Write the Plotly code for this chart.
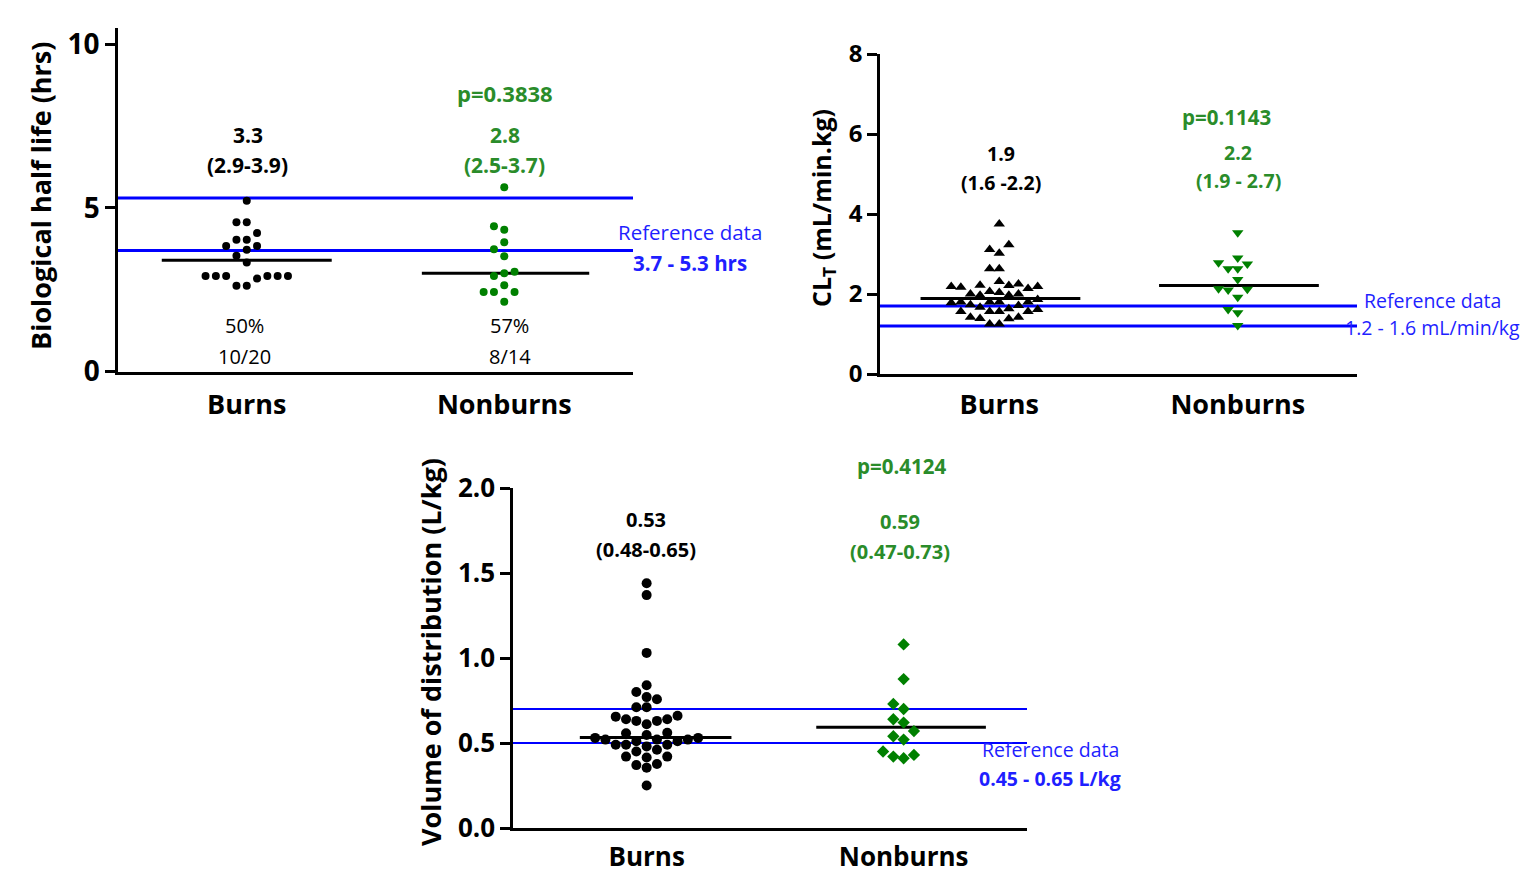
import numpy as np
import plotly.graph_objects as go

W, H = 1526, 872
FONT = "Open Sans"
BLACK = "#000000"
GREEN = "#008000"
GREEN_TXT = "#2a8c2a"
BLUE = "#0000ff"
BLUE_TXT = "#1f1fff"

categories = ["Burns", "Nonburns"]

# Biological half life (hrs)
halflife_burns = [5.22, 4.56, 4.56, 4.23, 4.03, 4.03, 3.84, 3.84, 3.72, 3.54, 3.33,
                  2.92, 2.92, 2.92, 2.92, 2.92, 2.92, 2.84, 2.62, 2.62]
halflife_nonburns = [5.63, 4.44, 4.33, 3.95, 3.74, 3.52, 3.05, 3.0, 2.92, 2.64,
                     2.43, 2.43, 2.43, 2.13]
halflife_medians = [3.40, 3.00]
halflife_reference = [3.7, 5.3]

# Clearance CL_T (mL/min.kg)
clearance_burns = [3.75, 3.23, 3.11, 3.02, 2.63, 2.63, 2.31, 2.25, 2.22, 2.21, 2.19,
                   2.19, 2.17, 2.14, 2.06, 2.04, 2.0, 2.0, 1.97, 1.97, 1.86, 1.8, 1.8,
                   1.8, 1.8, 1.78, 1.73, 1.71, 1.67, 1.63, 1.61, 1.56, 1.56, 1.56, 1.56,
                   1.42, 1.42, 1.39, 1.38, 1.25, 1.25]
clearance_nonburns = [3.53, 2.9, 2.78, 2.75, 2.63, 2.63, 2.36, 2.13, 2.12, 2.1, 1.92,
                      1.61, 1.53, 1.21]
clearance_medians = [1.89, 2.21]
clearance_reference = [1.2, 1.7]

# Volume of distribution (L/kg)
vd_burns = [1.44, 1.37, 1.03, 0.84, 0.80, 0.77, 0.757, 0.71, 0.71, 0.66, 0.655, 0.64,
            0.64, 0.63, 0.63, 0.61, 0.56, 0.557, 0.547, 0.53, 0.53, 0.52, 0.52, 0.52,
            0.51, 0.51, 0.49, 0.49, 0.49, 0.48, 0.46, 0.45, 0.42, 0.42, 0.415, 0.376,
            0.37, 0.355, 0.25]
vd_nonburns = [1.08, 0.876, 0.73, 0.70, 0.64, 0.62, 0.57, 0.54, 0.52, 0.45, 0.43,
               0.42, 0.41]
vd_medians = [0.533, 0.592]
vd_reference = [0.5, 0.7]

# Text labels
halflife_median_labels = ["3.3", "2.8"]
halflife_iqr_labels = ["(2.9-3.9)", "(2.5-3.7)"]
halflife_pct_labels = ["50%", "57%"]
halflife_frac_labels = ["10/20", "8/14"]
halflife_p = "p=0.3838"
halflife_ref_label = "3.7 - 5.3 hrs"

clearance_median_labels = ["1.9", "2.2"]
clearance_iqr_labels = ["(1.6 -2.2)", "(1.9 - 2.7)"]
clearance_p = "p=0.1143"
clearance_ref_label = "1.2 - 1.6 mL/min/kg"

vd_median_labels = ["0.53", "0.59"]
vd_iqr_labels = ["(0.48-0.65)", "(0.47-0.73)"]
vd_p = "p=0.4124"
vd_ref_label = "0.45 - 0.65 L/kg"


def px2x(px):
    return px / W


def px2y(py):
    return 1 - py / H


# Panel geometry (pixels): left, right, bottom, top
panels = {
    "1": dict(l=118, r=633, b=371.5, t=28, yrange=[0, 10.5], xrange=[-0.5, 1.5]),
    "2": dict(l=880, r=1357, b=374, t=54, yrange=[0, 8], xrange=[-0.5, 1.5]),
    "3": dict(l=513, r=1027, b=828, t=488, yrange=[0, 2], xrange=[-0.52, 1.48]),
}


def swarm(values, panel, diam):
    p = panels[panel]
    ppu = (p["b"] - p["t"]) / (p["yrange"][1] - p["yrange"][0])
    ppc = (p["r"] - p["l"]) / (p["xrange"][1] - p["xrange"][0])
    ys = np.asarray(values, dtype=float) * ppu
    order = np.argsort(ys, kind="stable")
    placed = []
    offs = np.zeros(len(ys))
    cands = [0]
    for k in range(1, 30):
        cands += [-k, k]
    for i in order:
        y = ys[i]
        for c in cands:
            x = c * diam
            if all((x - px) ** 2 + (y - py) ** 2 >= (diam * 0.97) ** 2 for px, py in placed):
                break
        placed.append((x, y))
        offs[i] = x / ppc
    return offs


fig = go.Figure()


def add_panel(panel, burns, nonburns, medians, refs, symbols, sizes, diam, medw):
    xa = "x" if panel == "1" else "x" + panel
    ya = "y" if panel == "1" else "y" + panel
    p = panels[panel]
    for r in refs:
        fig.add_trace(go.Scatter(x=p["xrange"], y=[r, r], mode="lines",
                                 line=dict(color=BLUE, width=3 if panel != "3" else 2),
                                 xaxis=xa, yaxis=ya, showlegend=False, hoverinfo="skip"))
    for j, m in enumerate(medians):
        fig.add_trace(go.Scatter(x=[j - medw[j][0], j + medw[j][1]], y=[m, m], mode="lines",
                                 line=dict(color=BLACK, width=3),
                                 xaxis=xa, yaxis=ya, showlegend=False, hoverinfo="skip"))
    for j, (vals, col) in enumerate([(burns, BLACK), (nonburns, GREEN)]):
        off = swarm(vals, panel, diam)
        fig.add_trace(go.Scatter(x=j + off, y=vals, mode="markers",
                                 marker=dict(symbol=symbols[j], size=sizes[j], color=col,
                                             line=dict(width=0)),
                                 xaxis=xa, yaxis=ya, showlegend=False))


add_panel("1", halflife_burns, halflife_nonburns, halflife_medians, halflife_reference,
          ["circle", "circle"], [8, 8], 10.3, [(0.33, 0.33), (0.32, 0.33)])
add_panel("2", clearance_burns, clearance_nonburns, clearance_medians, clearance_reference,
          ["triangle-up", "triangle-down"], [10, 10], 9.6, [(0.33, 0.34), (0.33, 0.34)])
add_panel("3", vd_burns, vd_nonburns, vd_medians, vd_reference,
          ["circle", "diamond"], [10, 9.5], 10.3, [(0.26, 0.33), (0.34, 0.32)])


def axis_common():
    return dict(showgrid=False, zeroline=False, showline=True, linecolor=BLACK,
                linewidth=2.5, automargin=False)


for key, tickv, tickt, tsize, standoff, xsize in [
    ("1", [0, 5, 10], ["0", "5", "10"], 28, 7, 27),
    ("2", [0, 2, 4, 6, 8], ["0", "2", "4", "6", "8"], 24, 5, 27),
    ("3", [0, 0.5, 1.0, 1.5, 2.0], ["0.0", "0.5", "1.0", "1.5", "2.0"], 26, 4, 26),
]:
    p = panels[key]
    xname = "xaxis" if key == "1" else "xaxis" + key
    yname = "yaxis" if key == "1" else "yaxis" + key
    anchor_x = "y" if key == "1" else "y" + key
    anchor_y = "x" if key == "1" else "x" + key
    fig.layout[xname] = dict(
        domain=[px2x(p["l"]), px2x(p["r"])], range=p["xrange"], anchor=anchor_x,
        tickmode="array", tickvals=[0, 1], ticktext=categories, ticks="",
        ticklabelstandoff=standoff,
        tickfont=dict(family=FONT, size=xsize, color=BLACK, weight="bold"),
        fixedrange=True, **axis_common())
    fig.layout[yname] = dict(
        domain=[px2y(p["b"]), px2y(p["t"])], range=p["yrange"], anchor=anchor_y,
        tickmode="array", tickvals=tickv, ticktext=tickt, ticks="outside",
        ticklen=10, tickwidth=2.5, tickcolor=BLACK,
        tickfont=dict(family=FONT, size=tsize, color=BLACK, weight="bold"),
        fixedrange=True, **axis_common())


def ann(text, x, y, color, size, bold=True, angle=0):
    return dict(text=text, x=px2x(x), y=px2y(y), xref="paper", yref="paper",
                showarrow=False, xanchor="center", yanchor="middle", textangle=angle,
                font=dict(family=FONT, size=size, color=color,
                          weight="bold" if bold else "normal"))


annotations = [
    ann("Biological half life (hrs)", 40, 196, BLACK, 27, angle=-90),
    ann("CL<sub>T</sub> (mL/min.kg)", 822, 208, BLACK, 25, angle=-90),
    ann("Volume of distribution (L/kg)", 430, 652, BLACK, 27, angle=-90),
    ann(halflife_median_labels[0], 248, 135, BLACK, 21),
    ann(halflife_iqr_labels[0], 248, 165, BLACK, 21),
    ann(halflife_p, 505, 93, GREEN_TXT, 22),
    ann(halflife_median_labels[1], 505, 135, GREEN_TXT, 21),
    ann(halflife_iqr_labels[1], 505, 165, GREEN_TXT, 21),
    ann(halflife_pct_labels[0], 244, 325, BLACK, 20, bold=False),
    ann(halflife_frac_labels[0], 244, 356, BLACK, 20, bold=False),
    ann(halflife_pct_labels[1], 510, 325, BLACK, 20, bold=False),
    ann(halflife_frac_labels[1], 510, 356, BLACK, 20, bold=False),
    ann("Reference data", 690, 232, BLUE_TXT, 20.5, bold=False),
    ann(halflife_ref_label, 690, 263, BLUE_TXT, 20.5),
    ann(clearance_median_labels[0], 1001, 153, BLACK, 19.5),
    ann(clearance_iqr_labels[0], 1001, 182, BLACK, 19.5),
    ann(clearance_p, 1226, 117, GREEN_TXT, 20.5),
    ann(clearance_median_labels[1], 1238, 152, GREEN_TXT, 19.5),
    ann(clearance_iqr_labels[1], 1238, 180, GREEN_TXT, 19.5),
    ann("Reference data", 1432, 300, BLUE_TXT, 19.5, bold=False),
    ann(clearance_ref_label, 1432, 328, BLUE_TXT, 19.5, bold=False),
    ann(vd_p, 901, 466, GREEN_TXT, 20.5),
    ann(vd_median_labels[0], 646, 519, BLACK, 20),
    ann(vd_iqr_labels[0], 646, 549, BLACK, 20),
    ann(vd_median_labels[1], 900, 521, GREEN_TXT, 20),
    ann(vd_iqr_labels[1], 900, 551, GREEN_TXT, 20),
    ann("Reference data", 1050, 749, BLUE_TXT, 19.5, bold=False),
    ann(vd_ref_label, 1050, 778, BLUE_TXT, 19.5),
]

fig.update_layout(
    width=W, height=H, autosize=False,
    margin=dict(l=0, r=0, t=0, b=0, autoexpand=False),
    paper_bgcolor="white", plot_bgcolor="white",
    annotations=annotations,
    showlegend=False,
)

fig.write_html(
    "out.html",
    config={"displayModeBar": False},
    post_script="document.body.style.margin='0';document.body.style.overflow='hidden';",
)
